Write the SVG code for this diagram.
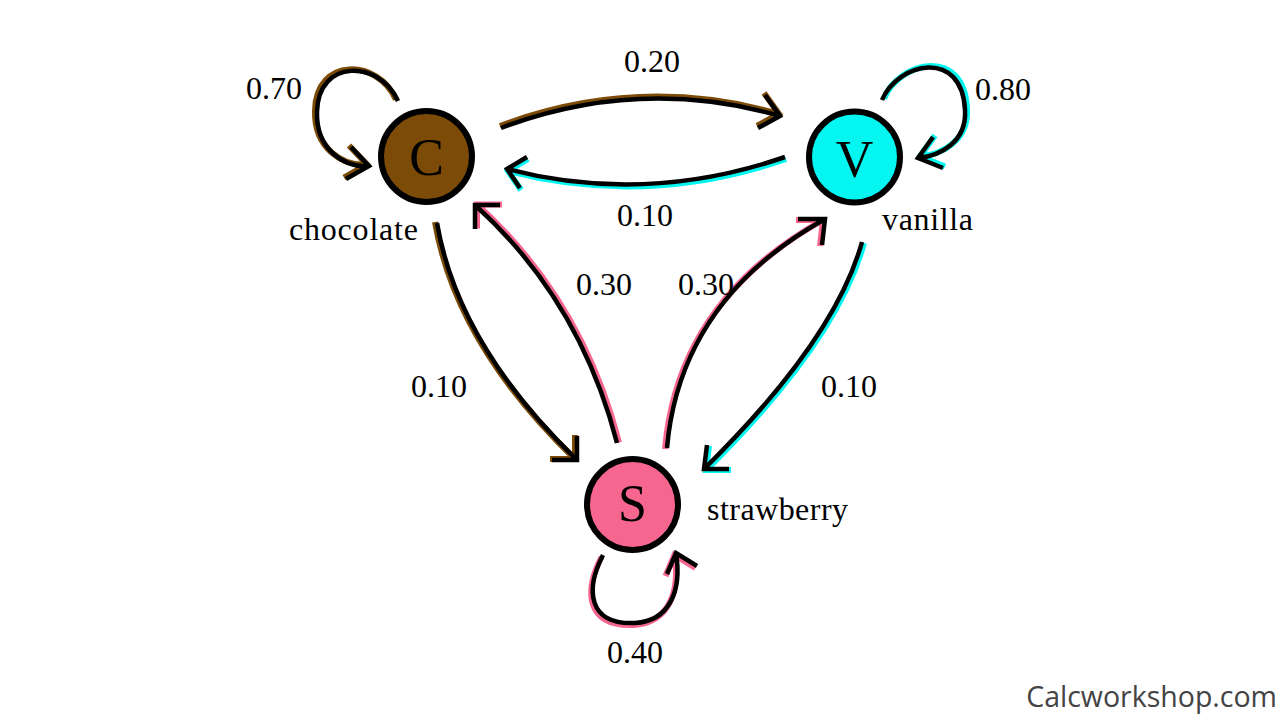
<svg xmlns="http://www.w3.org/2000/svg" xmlns:xlink="http://www.w3.org/1999/xlink" width="1280" height="720" viewBox="0 0 1280 720">
<style>
.node{stroke:#000;stroke-width:6}
.c{fill:#7B4B07}
.v{fill:#05F5F0}
.s{fill:#F7668F}
.letter{font-family:"Liberation Serif",serif;font-size:52px;fill:#000;text-anchor:middle}
.lbl{font-family:"Liberation Serif",serif;font-size:32px;fill:#000}
.edge{fill:none;stroke-width:4.5;stroke-linecap:butt;stroke-linejoin:miter}
.col{stroke-width:6}
.blk{stroke:#000}
.cb{stroke:#7B4B07}
.cc{stroke:#05F5F0}
.cs{stroke:#F7668F}
.wm{font-family:"Open Sans",sans-serif;font-size:28.5px;fill:#444;text-anchor:end}
</style>
<defs>
<path id="eCC" d="M398,101 C380,60 318,58 317,112 C316,150 345,168 369,166 M351,147 L369,166 L346,179"/>
<path id="eVV" d="M882,100 C898,62 962,48 965,110 C967,142 940,156 918,158 M933,137 L918,158 L943,168"/>
<path id="eSS" d="M603,555 C585,590 588,625 635,623 C670,621 682,590 676,553 M667,574 L676,553 L697,566"/>
<path id="eCV" d="M501,128 Q640,76 780,116 M765,95 L780,116 L758,128"/>
<path id="eVC" d="M785,157 Q645,205 507,169 M527,157 L507,169 L520,188"/>
<path id="eCS" d="M437,223 Q458,345 577,460 M577,436 L577,460 L552,460"/>
<path id="eSC" d="M617,443 Q580,300 475,205 M500,205 L475,205 L475,229"/>
<path id="eSV" d="M667,448 Q680,300 825,219 M798,219 L825,219 L822,245"/>
<path id="eVS" d="M862,242 Q835,340 704,469 M707,445 L704,469 L729,469"/>
</defs>
<rect width="1280" height="720" fill="#fff"/>
<g id="connectors">
<use xlink:href="#eCC" class="edge col cb" transform="translate(-2,-1.5)"/>
<use xlink:href="#eCC" class="edge blk"/>
<use xlink:href="#eVV" class="edge col cc" transform="translate(2,-1.5)"/>
<use xlink:href="#eVV" class="edge blk"/>
<use xlink:href="#eSS" class="edge col cs" transform="translate(-1.5,2)"/>
<use xlink:href="#eSS" class="edge blk"/>
<use xlink:href="#eCV" class="edge col cb" transform="translate(-1,-2)"/>
<use xlink:href="#eCV" class="edge blk"/>
<use xlink:href="#eVC" class="edge col cc" transform="translate(1,2)"/>
<use xlink:href="#eVC" class="edge blk"/>
<use xlink:href="#eCS" class="edge col cb" transform="translate(-2,-1)"/>
<use xlink:href="#eCS" class="edge blk"/>
<use xlink:href="#eSC" class="edge col cs" transform="translate(2,-0.5)"/>
<use xlink:href="#eSC" class="edge blk"/>
<use xlink:href="#eSV" class="edge col cs" transform="translate(-2,1)"/>
<use xlink:href="#eSV" class="edge blk"/>
<use xlink:href="#eVS" class="edge col cc" transform="translate(2,1)"/>
<use xlink:href="#eVS" class="edge blk"/>
</g>
<g id="edge-labels">
<text class="lbl" x="246" y="99">0.70</text>
<text class="lbl" x="624" y="72">0.20</text>
<text class="lbl" x="975" y="100">0.80</text>
<text class="lbl" x="617" y="226">0.10</text>
<text class="lbl" x="576" y="295">0.30</text>
<text class="lbl" x="678" y="295">0.30</text>
<text class="lbl" x="411" y="397">0.10</text>
<text class="lbl" x="821" y="397">0.10</text>
<text class="lbl" x="607" y="663">0.40</text>
</g>
<g id="node-C">
<circle class="node c" cx="426.5" cy="156.5" r="45.5"/>
<text class="letter" x="426.5" y="175">C</text>
<text class="lbl" x="289" y="240" textLength="129">chocolate</text>
</g>
<g id="node-V">
<circle class="node v" cx="854.5" cy="157" r="45.5"/>
<text class="letter" x="854.5" y="177">V</text>
<text class="lbl" x="882" y="230" textLength="91">vanilla</text>
</g>
<g id="node-S">
<circle class="node s" cx="632.5" cy="504.5" r="45.5"/>
<text class="letter" x="632.5" y="521">S</text>
<text class="lbl" x="707" y="520" textLength="141">strawberry</text>
</g>
<text class="wm" x="1277" y="707">Calcworkshop.com</text>
</svg>
